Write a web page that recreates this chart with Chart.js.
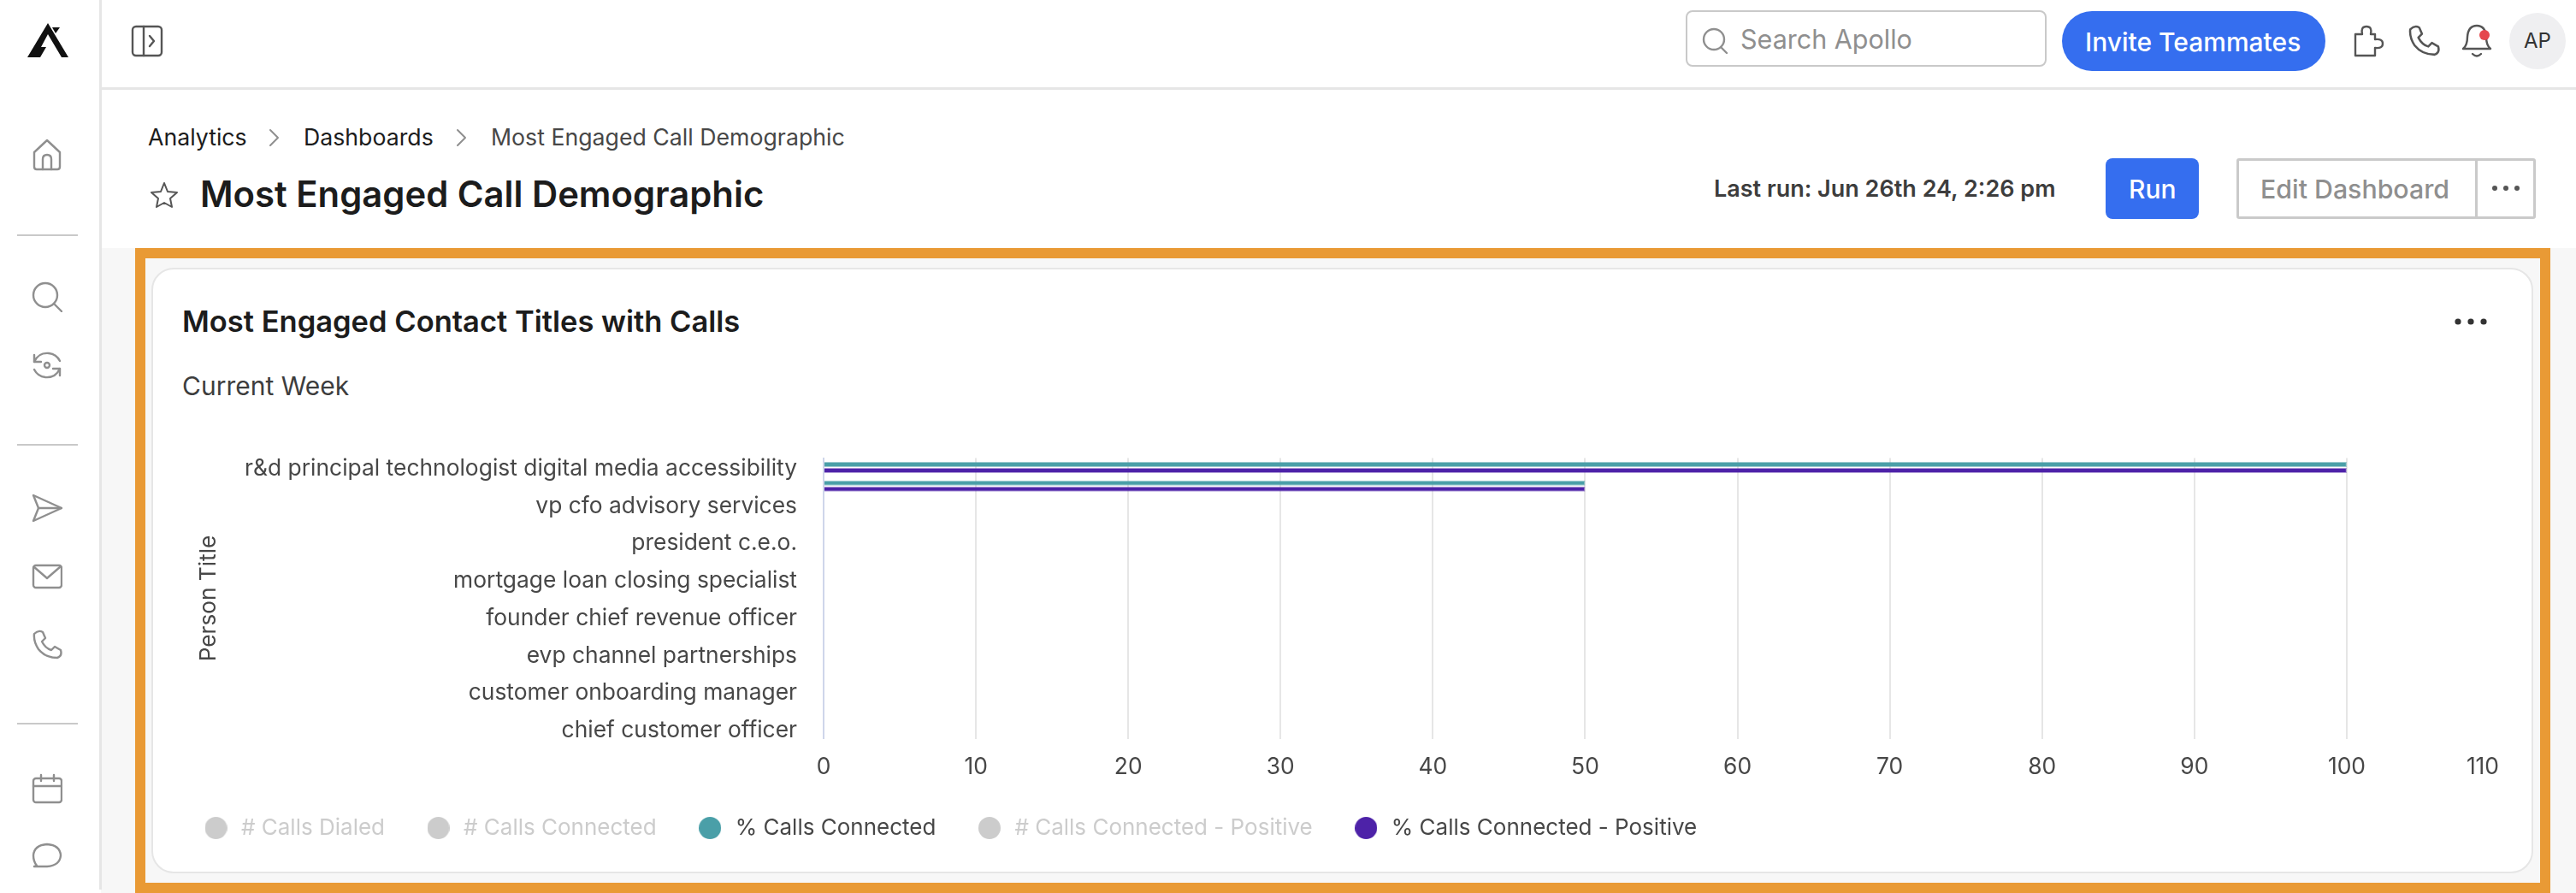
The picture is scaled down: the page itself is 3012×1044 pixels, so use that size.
<!DOCTYPE html>
<html>
<head>
<meta charset="utf-8">
<title>Most Engaged Call Demographic</title>
<script src="https://cdn.jsdelivr.net/npm/chart.js@4"></script>
<style>
  html, body { margin: 0; padding: 0; background: #fff; }
  body { width: 3012px; height: 1044px; position: relative; overflow: hidden; font-family: Inter, sans-serif; color: #1c1c1c; }
  .abs { position: absolute; white-space: nowrap; line-height: 1; }
  .box { position: absolute; box-sizing: border-box; }
  svg.icon { position: absolute; fill: none; stroke: #8f8f8f; stroke-width: 2.4; stroke-linecap: round; stroke-linejoin: round; }
  svg.dark { stroke: #555; }
  #chartWrap { position: absolute; left: 190px; top: 520px; width: 2732px; height: 471px; }
</style>
</head>
<body>
<!-- page shell -->
<div class="box" style="left:118px;top:290px;width:2894px;height:754px;background:#f7f7f7"></div>
<div class="box" style="left:116px;top:0;width:3px;height:1040px;background:#e6e6e6"></div>
<div class="box" style="left:118px;top:102px;width:2894px;height:3px;background:#e6e6e6"></div>
<div class="box" style="left:158px;top:290px;width:2824px;height:754px;background:#e99a35"></div>
<div class="box" style="left:170px;top:302px;width:2800px;height:730px;background:#f7f7f7"></div>
<div class="box" style="left:177px;top:313px;width:2785px;height:708px;background:#fff;border:2px solid #e6e6e6;border-radius:26px"></div>

<!-- sidebar -->
<svg class="icon" style="left:32px;top:27px;stroke:none;fill:#111" width="48" height="40" viewBox="0 0 48 40"><path d="M24 0 L48 40 L40 40 L24 13 L16 28 L22 28 L15 40 L0 40 Z"/><path d="M29 5 L38 5 L33 12 Z"/></svg>
<svg class="icon" style="left:37px;top:162px" width="36" height="38" viewBox="0 0 36 38"><path d="M3 16 L18 2 L33 16 V33 Q33 36 30 36 H6 Q3 36 3 33 Z"/><path d="M13 36 V24 Q13 19 18 19 Q23 19 23 24 V36"/></svg>
<div class="box" style="left:20px;top:274px;width:71px;height:2px;background:#c9c9c9"></div>
<svg class="icon" style="left:37px;top:329px" width="36" height="36" viewBox="0 0 36 36"><circle cx="16" cy="16" r="14"/><path d="M26 26 L35 35"/></svg>
<svg class="icon" style="left:37px;top:409px" width="36" height="36" viewBox="0 0 36 36"><path d="M3 14 Q8 3 20 4 Q29 5 33 13"/><path d="M33 22 Q28 33 16 32 Q7 31 3 23"/><path d="M3 6 V14 H11"/><path d="M33 30 V22 H25"/><circle cx="18" cy="18" r="3"/></svg>
<div class="box" style="left:20px;top:519px;width:71px;height:2px;background:#c9c9c9"></div>
<svg class="icon" style="left:37px;top:576px" width="36" height="36" viewBox="0 0 36 36"><path d="M2 3 L35 18 L2 33 L8 18 Z"/><path d="M8 18 H35"/></svg>
<svg class="icon" style="left:37px;top:656px" width="36" height="36" viewBox="0 0 36 36"><rect x="2" y="5" width="33" height="26" rx="3"/><path d="M3 7 L18 20 L33 7"/></svg>
<svg class="icon" style="left:37px;top:735px" width="36" height="36" viewBox="0 0 36 36"><path d="M3 6 Q8 1 13 4 L16 11 L12 15 Q16 23 23 25 L27 21 L34 25 Q36 32 30 34 Q16 34 8 24 Q2 15 3 6 Z"/></svg>
<div class="box" style="left:20px;top:845px;width:71px;height:2px;background:#c9c9c9"></div>
<svg class="icon" style="left:37px;top:904px" width="36" height="36" viewBox="0 0 36 36"><rect x="2" y="6" width="33" height="28" rx="3"/><path d="M2 15 H35 M11 2 V9 M26 2 V9"/></svg>
<svg class="icon" style="left:37px;top:982px" width="36" height="36" viewBox="0 0 36 36"><path d="M6 30 Q2 25 2 18 Q3 6 18 5 Q33 6 34 18 Q33 30 18 31 H3 Z"/></svg>

<!-- top bar -->
<svg class="icon dark" style="left:153px;top:29px" width="38" height="38" viewBox="0 0 38 38"><rect x="2" y="2" width="34" height="34" rx="4"/><path d="M15 2 V36"/><path d="M22 13 L27 19 L22 25"/></svg>
<div class="box" style="left:1971px;top:12px;width:422px;height:66px;border:2px solid #c9c9c9;border-radius:8px;background:#fff"></div>
<svg class="icon" style="left:1990px;top:32px" width="32" height="32" viewBox="0 0 32 32"><circle cx="14" cy="14" r="12"/><path d="M22 23 L29 30"/></svg>
<div class="abs" style="left:2035px;top:31px;font-size:30.5px;color:#8f8f8f">Search Apollo</div>
<div class="box" style="left:2411px;top:13px;width:308px;height:70px;background:#356eef;border-radius:35px"></div>
<div class="abs" style="left:2438px;top:34px;font-size:30px;font-weight:500;color:#fff">Invite Teammates</div>
<svg class="icon dark" style="left:2750px;top:28px" width="40" height="40" viewBox="0 0 40 40"><path d="M4 12 H12 Q10 3 17 3 Q24 3 22 12 H27 V18 Q36 17 36 23 Q36 29 27 28 V37 H4 Z"/></svg>
<svg class="icon dark" style="left:2815px;top:28px" width="38" height="38" viewBox="0 0 36 36"><path d="M3 6 Q8 1 13 4 L16 11 L12 15 Q16 23 23 25 L27 21 L34 25 Q36 32 30 34 Q16 34 8 24 Q2 15 3 6 Z"/></svg>
<svg class="icon dark" style="left:2877px;top:27px" width="38" height="42" viewBox="0 0 38 42"><path d="M3 30 Q8 26 8 16 Q9 3 19 3 Q29 3 30 16 Q30 26 35 30 Z"/><path d="M14 36 Q19 41 24 36"/><circle cx="28" cy="14" r="6" fill="#e5484d" stroke="none"/></svg>
<div class="box" style="left:2934px;top:15px;width:66px;height:66px;border-radius:50%;background:#efeff1"></div>
<div class="abs" style="left:2951px;top:36px;font-size:24px;color:#333">AP</div>

<!-- page header -->
<div class="abs" style="left:173px;top:147px;font-size:26.7px;color:#1c1c1c">Analytics</div>
<svg class="icon" style="left:314px;top:150px;stroke-width:2" width="14" height="22" viewBox="0 0 14 22"><path d="M2 2 L11 11 L2 20"/></svg>
<div class="abs" style="left:355px;top:147px;font-size:26.7px;color:#1c1c1c">Dashboards</div>
<svg class="icon" style="left:533px;top:150px;stroke-width:2" width="14" height="22" viewBox="0 0 14 22"><path d="M2 2 L11 11 L2 20"/></svg>
<div class="abs" style="left:574px;top:147px;font-size:26.7px;color:#474747">Most Engaged Call Demographic</div>
<svg class="icon dark" style="left:175px;top:212px;stroke-width:2" width="34" height="32" viewBox="0 0 34 32"><path d="M17 2 L21 12 L32 13 L24 20 L26 30 L17 25 L8 30 L10 20 L2 13 L13 12 Z"/></svg>
<div class="abs" style="left:234px;top:207px;font-size:41.8px;font-weight:600;color:#1c1c1c">Most Engaged Call Demographic</div>
<div class="abs" style="left:2004px;top:207px;font-size:27px;font-weight:600;color:#3d3d3d">Last run: Jun 26th 24, 2:26 pm</div>
<div class="box" style="left:2462px;top:185px;width:109px;height:71px;background:#356eef;border-radius:8px"></div>
<div class="abs" style="left:2489px;top:206px;font-size:30px;font-weight:500;color:#fff">Run</div>
<div class="box" style="left:2615px;top:185px;width:350px;height:71px;border:3px solid #cacaca;border-radius:3px"></div>
<div class="box" style="left:2894px;top:185px;width:3px;height:71px;background:#cacaca"></div>
<div class="abs" style="left:2643px;top:206px;font-size:30.3px;font-weight:500;color:#8f8f8f">Edit Dashboard</div>
<svg class="icon" style="left:2910px;top:212px;stroke:none;fill:#555" width="40" height="16" viewBox="0 0 40 16"><circle cx="7" cy="8" r="3"/><circle cx="20" cy="8" r="3"/><circle cx="33" cy="8" r="3"/></svg>

<!-- card header -->
<div class="abs" style="left:213px;top:359px;font-size:34.5px;font-weight:600;color:#1c1c1c">Most Engaged Contact Titles with Calls</div>
<svg class="icon" style="left:2868px;top:368px;stroke:none;fill:#333" width="44" height="16" viewBox="0 0 44 16"><circle cx="6" cy="8" r="3.6"/><circle cx="21" cy="8" r="3.6"/><circle cx="36" cy="8" r="3.6"/></svg>
<div class="abs" style="left:213px;top:436px;font-size:30px;color:#3d3d3d">Current Week</div>

<div id="chartWrap"><canvas id="myChart"></canvas></div>

<script>
// every other title has no tick shown in the picture
var categories = [
  'r&d principal technologist digital media accessibility', '',
  'vp cfo advisory services', '',
  'president c.e.o.', '',
  'mortgage loan closing specialist', '',
  'founder chief revenue officer', '',
  'evp channel partnerships', '',
  'customer onboarding manager', '',
  'chief customer officer'
];
var callsDialed =      [1, 2, 1, 1, 1, 1, 1, 1, 1, 1, 1, 1, 1, 1, 1];
var callsConnected =   [1, 1, 0, 0, 0, 0, 0, 0, 0, 0, 0, 0, 0, 0, 0];
var pctConnected =     [100, 50, 0, 0, 0, 0, 0, 0, 0, 0, 0, 0, 0, 0, 0];
var connectedPositive = [1, 1, 0, 0, 0, 0, 0, 0, 0, 0, 0, 0, 0, 0, 0];
var pctPositive =      [100, 50, 0, 0, 0, 0, 0, 0, 0, 0, 0, 0, 0, 0, 0];

var teal = '#4a9fa8';
var purple = '#4d22a8';
var grey = '#cccccc';
var textColor = '#474747';

function makeSet(label, data, color, edge, hidden) {
  return {
    label: label,
    data: data,
    backgroundColor: color,
    borderColor: edge,
    borderWidth: 1,
    hidden: hidden,
    categoryPercentage: 0.64,
    barPercentage: 0.86
  };
}

// round legend marker, as an image so the gap to the text can differ from its size
function dot(color) {
  var c = document.createElement('canvas');
  c.width = 26;
  c.height = 26;
  var g = c.getContext('2d');
  g.fillStyle = color;
  g.beginPath();
  g.arc(13, 13, 13, 0, Math.PI * 2);
  g.fill();
  return c;
}

var ctx = document.getElementById('myChart').getContext('2d');
var myChart = new Chart(ctx, {
  type: 'bar',
  data: {
    labels: categories,
    datasets: [
      makeSet('# Calls Dialed', callsDialed, grey, grey, true),
      makeSet('# Calls Connected', callsConnected, grey, grey, true),
      makeSet('% Calls Connected', pctConnected, teal, 'rgba(74,159,168,0.55)', false),
      makeSet('# Calls Connected - Positive', connectedPositive, grey, grey, true),
      makeSet('% Calls Connected - Positive', pctPositive, purple, 'rgba(77,34,168,0.45)', false)
    ]
  },
  options: {
    indexAxis: 'y',
    responsive: true,
    maintainAspectRatio: false,
    animation: false,
    layout: { padding: { top: 15.5 } },
    scales: {
      x: {
        min: 0,
        max: 110,
        afterBuildTicks: function(scale) {
          // spare first tick so only the last label gets pulled inwards by align inner
          scale.ticks.unshift({ value: 0 });
        },
        afterFit: function(scale) {
          scale.height = 45.5;
          scale.paddingLeft = 0;
          scale.paddingRight = 0;
        },
        grid: {
          drawTicks: false,
          lineWidth: 2,
          color: function(c) {
            if (c.tick && c.tick.value === 110) return 'rgba(0,0,0,0)';
            if (c.tick && c.tick.value === 0) return '#cfd6ea';
            return '#e6e6e6';
          }
        },
        border: { display: false },
        ticks: {
          stepSize: 10,
          autoSkip: false,
          maxRotation: 0,
          align: 'inner',
          padding: 18,
          color: textColor,
          font: { family: 'Inter', size: 26.4 },
          callback: function(value, index) { return index === 0 ? '' : value; }
        }
      },
      y: {
        afterFit: function(scale) {
          scale.width = 773;
          scale.paddingTop = 0;
          scale.paddingBottom = 0;
        },
        grid: { display: false, drawTicks: false },
        border: { color: '#cfd6ea', width: 2 },
        title: {
          display: true,
          text: 'Person Title',
          color: textColor,
          font: { family: 'Inter', size: 26.2 },
          padding: { top: 38, bottom: 0 }
        },
        ticks: {
          autoSkip: false,
          padding: 31,
          labelOffset: 1.5,
          color: textColor,
          font: { family: 'Inter', size: 26.4 }
        }
      }
    },
    plugins: {
      tooltip: { enabled: false },
      legend: {
        position: 'bottom',
        align: 'start',
        onClick: null,
        labels: {
          usePointStyle: true,
          pointStyleWidth: 33,
          boxHeight: 18.4,
          padding: 46,
          font: { family: 'Inter', size: 26 },
          generateLabels: function(chart) {
            return chart.data.datasets.map(function(ds, i) {
              var color = ds.hidden ? grey : ds.backgroundColor;
              return {
                text: ds.label,
                fillStyle: color,
                strokeStyle: color,
                lineWidth: 0,
                pointStyle: dot(color),
                fontColor: ds.hidden ? grey : textColor,
                hidden: false,
                datasetIndex: i
              };
            });
          }
        }
      }
    }
  }
});
</script>
</body>
</html>
